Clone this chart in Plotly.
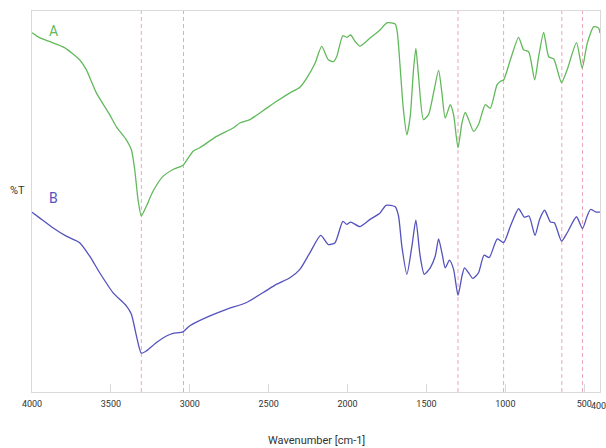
import plotly.graph_objects as go

# FTIR spectra: wavenumber (cm-1) vs relative transmittance (arbitrary %T scale)
wn_a = [4000, 3952, 3889, 3794, 3698, 3656, 3592, 3508, 3465, 3402, 3370, 3349, 3328,
        3307, 3275, 3233, 3170, 3106, 3043, 2979, 2937, 2830, 2725, 2683, 2619, 2513,
        2449, 2365, 2302, 2259, 2206, 2164, 2122, 2090, 2069, 2030, 2005, 1980, 1952,
        1921, 1857, 1794, 1751, 1698, 1684, 1667, 1646, 1624, 1603, 1582, 1567, 1550,
        1519, 1487, 1455, 1423, 1402, 1381, 1349, 1328, 1300, 1275, 1254, 1233, 1201,
        1170, 1127, 1095, 1053, 1032, 1011, 968, 916, 884, 852, 814, 789, 757, 725,
        693, 644, 608, 549, 513, 481, 439, 408, 400]
t_a = [94.3, 93.0, 92.0, 90.4, 87.2, 84.6, 78.5, 72.8, 69.6, 66.2, 63.6, 58.4, 50.5,
       46.2, 48.8, 52.7, 56.6, 58.4, 59.5, 63.2, 64.1, 67.1, 69.3, 70.6, 71.5, 74.5,
       76.3, 78.5, 80.0, 82.4, 86.3, 90.7, 87.2, 86.7, 88.0, 93.5, 93.1, 93.7, 92.0,
       90.8, 92.9, 95.0, 96.9, 96.6, 94.2, 85.4, 74.1, 67.5, 72.3, 84.6, 90.2, 82.8,
       71.5, 72.8, 78.5, 84.4, 78.5, 71.9, 75.4, 72.8, 64.1, 70.6, 73.4, 71.5, 68.4,
       70.2, 75.4, 74.5, 80.6, 81.5, 81.9, 87.2, 93.1, 89.8, 89.3, 81.9, 88.0, 94.4, 88.0,
       87.4, 81.2, 84.6, 91.7, 85.0, 91.5, 95.9, 95.5, 94.2]

wn_b = [4000, 3952, 3868, 3783, 3698, 3635, 3571, 3487, 3402, 3370, 3338, 3307, 3275,
        3211, 3148, 3106, 3043, 3000, 2894, 2767, 2640, 2535, 2449, 2365, 2302, 2238,
        2170, 2122, 2079, 2030, 2005, 1980, 1921, 1857, 1794, 1756, 1698, 1677, 1656,
        1624, 1592, 1567, 1540, 1514, 1476, 1444, 1423, 1398, 1381, 1354, 1328, 1300,
        1275, 1259, 1233, 1206, 1170, 1135, 1102, 1051, 1011, 968, 916, 880, 850, 812,
        783, 751, 714, 689, 644, 608, 549, 511, 481, 460, 429, 400]
t_b = [47.2, 45.7, 43.1, 40.9, 39.2, 35.7, 31.3, 26.1, 22.6, 20.4, 14.7, 10.2, 10.8,
       13.0, 14.7, 15.4, 15.8, 17.4, 19.6, 21.7, 23.5, 26.1, 28.3, 30.0, 32.2, 36.6,
       41.1, 38.7, 39.2, 44.8, 44.0, 44.6, 43.4, 45.3, 47.0, 49.0, 48.6, 46.2, 38.3,
       30.9, 38.3, 45.1, 35.7, 30.9, 32.6, 35.7, 40.2, 35.7, 32.6, 34.6, 32.2, 25.4,
       30.4, 32.6, 31.3, 29.8, 31.3, 35.9, 35.3, 40.2, 39.2, 43.5, 48.1, 45.9, 46.2, 41.1,
       45.3, 47.7, 44.6, 44.4, 39.6, 41.8, 46.0, 42.9, 46.2, 47.9, 47.3, 47.2]

# band positions marked with dashed guides
marker_bands = [3307, 3040, 1300, 1011, 642, 511]

tick_vals = [4000, 3500, 3000, 2500, 2000, 1500, 1000, 500, 400]
tick_text = [str(v) for v in tick_vals]
# the end label at 400 is drawn separately, right-aligned to the figure edge
edge_label = tick_text[-1]
axis_tick_text = tick_text[:-1] + [""]

green = "#62b95b"
blue = "#5452bd"
guide = "#eca6b8"
text_color = "#333333"
font_family = "Roboto, Arial, sans-serif"
tick_size = 9

fig = go.Figure()
fig.add_trace(go.Scatter(x=wn_a, y=t_a, mode="lines", name="A",
                         line=dict(color=green, width=1.3, shape="spline", smoothing=0.6)))
fig.add_trace(go.Scatter(x=wn_b, y=t_b, mode="lines", name="B",
                         line=dict(color=blue, width=1.3, shape="spline", smoothing=0.6)))

for b in marker_bands:
    fig.add_shape(type="line", xref="x", yref="paper", x0=b, x1=b, y0=0, y1=1,
                  line=dict(color=guide, width=1, dash="4px,3px"), layer="below")

fig.add_annotation(x=0.027, y=0.975, xref="paper", yref="paper", text="A",
                   showarrow=False, font=dict(color=green, size=14, family=font_family))
fig.add_annotation(x=0.027, y=0.508, xref="paper", yref="paper", text="B",
                   showarrow=False, font=dict(color=blue, size=14, family=font_family))
fig.add_annotation(x=0, y=0.528, xref="paper", yref="paper", text="%T", xshift=-15,
                   xanchor="center", showarrow=False,
                   font=dict(color=text_color, size=11, family=font_family))
fig.add_annotation(x=0.5, y=-0.126, xref="paper", yref="paper", text="Wavenumber [cm-1]",
                   showarrow=False, yanchor="middle",
                   font=dict(color=text_color, size=11, family=font_family))
fig.add_annotation(x=1, y=-0.037, xref="paper", yref="paper", text=edge_label,
                   xanchor="right", yanchor="middle", xshift=7, borderpad=0,
                   showarrow=False,
                   font=dict(color=text_color, size=tick_size, family=font_family))

fig.update_layout(
    width=606, height=448,
    margin=dict(l=32, r=6, t=11, b=56, autoexpand=False),
    paper_bgcolor="white", plot_bgcolor="white",
    showlegend=False,
    font=dict(family=font_family, size=11, color=text_color),
)
fig.update_xaxes(range=[4000, 400], tickvals=tick_vals, ticktext=axis_tick_text,
                 tickangle=0, automargin=False, ticklabelstandoff=3,
                 showgrid=False, zeroline=False, showline=True, linecolor="#d9d9d9",
                 linewidth=1, mirror=True, ticks="inside", ticklen=8, tickcolor="#d9d9d9",
                 tickfont=dict(size=tick_size, color=text_color))
fig.update_yaxes(range=[0, 100], showticklabels=False, showgrid=False, zeroline=False,
                 showline=True, linecolor="#d9d9d9", linewidth=1, mirror=True, ticks="")

fig.write_html("out.html")
